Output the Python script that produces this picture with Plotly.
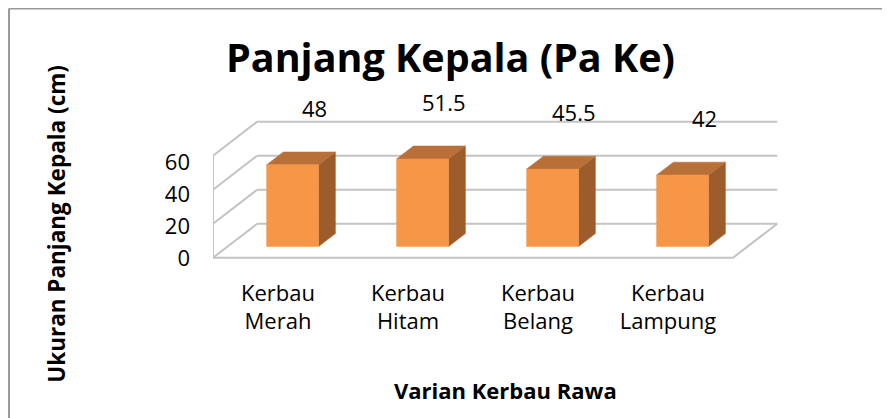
import plotly.graph_objects as go

# ---------------- data ----------------
categories = ["Kerbau<br>Merah", "Kerbau<br>Hitam", "Kerbau<br>Belang", "Kerbau<br>Lampung"]
values = [48, 51.5, 45.5, 42]
value_labels = ["48", "51.5", "45.5", "42"]
y_ticks = [0, 20, 40, 60]
y_tick_labels = ["0", "20", "40", "60"]
chart_title = "Panjang Kepala (Pa Ke)"
x_title = "Varian Kerbau Rawa"
y_title = "Ukuran Panjang Kepala (cm)"

# ---------------- layout / projection constants ----------------
W, H = 890, 418
OFF = 8.0                        # page body margin offset (px)
X0PX, CAT_PX = 278.0, 130.0      # pixel of category 0 on front floor, px per category
Y0PX, UNIT_PX = 262.0, 1.73      # pixel of value 0 on front floor, px per unit
PL, PR, PT, PB = 213.0, 778.0, 80.0, 270.0   # plot area in (screen) px

DX, DY = 0.34, 20.0      # depth vector (category units, value units)
D0, D1 = 0.33, 0.71      # bar front / back depth fraction
BW = 0.40                # bar width (category units)
LBL_DX, LBL_DY = 0.28, 40.0

FONT = "Open Sans"
FRONT, TOP, SIDE = "#F79646", "#B96F38", "#9D5C2B"
GRID = "#c3c3c3"


def fx(p):
    return (p - OFF) / W


def fy(p):
    return 1 - (p - OFF) / H


xr = [(PL - X0PX) / CAT_PX, (PR - X0PX) / CAT_PX]
yr = [(Y0PX - PB) / UNIT_PX, (Y0PX - PT) / UNIT_PX]

# tick label axis (labels sit slightly off the geometric gridlines in the original)
T0PX, TUNIT = 263.0, 1.642
yr2 = [(T0PX - PB) / TUNIT, (T0PX - PT) / TUNIT]

fig = go.Figure()

# ---------------- walls / gridlines ----------------
n = len(values)
xl, xrt = -0.5, n - 0.5
lx, ly = [], []
top = y_ticks[-1]
for v in y_ticks:
    lx += [xl + DX, xrt + DX, None]
    ly += [v + DY, v + DY, None]
    lx += [xl, xl + DX, None]
    ly += [v, v + DY, None]
lx += [xl, xl, None]
ly += [0, top, None]
lx += [xl, xrt, xrt + DX, None]
ly += [0, 0, DY, None]
fig.add_trace(go.Scatter(x=lx, y=ly, mode="lines", line=dict(color=GRID, width=2),
                         hoverinfo="skip", showlegend=False, cliponaxis=False))

# ---------------- 3D bars ----------------
dd = D1 - D0
for i, v in enumerate(values):
    cx = i + D0 * DX
    x_l, x_r = cx - BW / 2, cx + BW / 2
    yb, yt = D0 * DY, v + D0 * DY
    fig.add_trace(go.Scatter(
        x=[x_r, x_r, x_r + dd * DX, x_r + dd * DX, x_r],
        y=[yb, yt, yt + dd * DY, yb + dd * DY, yb],
        mode="lines", fill="toself", fillcolor=SIDE, line=dict(color=SIDE, width=0.5),
        hoverinfo="skip", showlegend=False))
    fig.add_trace(go.Scatter(
        x=[x_l, x_r, x_r + dd * DX, x_l + dd * DX, x_l],
        y=[yt, yt, yt + dd * DY, yt + dd * DY, yt],
        mode="lines", fill="toself", fillcolor=TOP, line=dict(color=TOP, width=0.5),
        hoverinfo="skip", showlegend=False))
    fig.add_trace(go.Scatter(
        x=[x_l, x_r, x_r, x_l, x_l],
        y=[yb, yb, yt, yt, yb],
        mode="lines", fill="toself", fillcolor=FRONT, line=dict(color=FRONT, width=0.5),
        hoverinfo="skip", showlegend=False))

fig.add_trace(go.Scatter(x=[0], y=[0], yaxis="y2", mode="markers",
                         marker=dict(opacity=0), hoverinfo="skip", showlegend=False))

annotations = []
for i, (v, t) in enumerate(zip(values, value_labels)):
    annotations.append(dict(x=i + LBL_DX, y=v + LBL_DY, xref="x", yref="y", text=t,
                            showarrow=False, font=dict(family=FONT, size=22, color="#000"),
                            xanchor="center", yanchor="middle"))

annotations.append(dict(x=fx(450.5), y=fy(58), xref="paper", yref="paper", text="<b>%s</b>" % chart_title,
                        showarrow=False, font=dict(family=FONT, size=39.5, color="#000"),
                        xanchor="center", yanchor="middle"))
annotations.append(dict(x=fx(505), y=fy(396), xref="paper", yref="paper", text="<b>%s</b>" % x_title,
                        showarrow=False, font=dict(family=FONT, size=22, color="#000"),
                        xanchor="center", yanchor="middle"))
annotations.append(dict(x=fx(57), y=fy(227.5), xref="paper", yref="paper", text="<b>%s</b>" % y_title,
                        showarrow=False, textangle=-90, font=dict(family=FONT, size=22.5, color="#000"),
                        xanchor="center", yanchor="middle"))

# chart frame (top and left edges, as visible in the original crop)
FRAME_X, FRAME_Y = 9.0, 8.5
shapes = [
    dict(type="line", xref="paper", yref="paper", x0=fx(FRAME_X), x1=1, y0=fy(FRAME_Y), y1=fy(FRAME_Y),
         line=dict(color="#9a9a9a", width=2)),
    dict(type="line", xref="paper", yref="paper", x0=fx(FRAME_X), x1=fx(FRAME_X), y0=fy(FRAME_Y), y1=0,
         line=dict(color="#9a9a9a", width=2)),
]

fig.update_layout(
    width=W, height=H,
    margin=dict(l=0, r=0, t=0, b=0),
    paper_bgcolor="white", plot_bgcolor="rgba(0,0,0,0)",
    showlegend=False,
    font=dict(family=FONT, size=22, color="#000"),
    xaxis=dict(domain=[fx(PL), fx(PR)], range=xr, showgrid=False, zeroline=False, showline=False,
               tickvals=list(range(n)), ticktext=categories, ticks="", ticklabelstandoff=12,
               tickfont=dict(family=FONT, size=22, color="#000"), fixedrange=True),
    yaxis=dict(domain=[fy(PB), fy(PT)], range=yr, showgrid=False, zeroline=False,
               showline=False, showticklabels=False, ticks="", fixedrange=True),
    yaxis2=dict(overlaying="y", side="left", range=yr2, tickvals=y_ticks, ticktext=y_tick_labels,
                showgrid=False, zeroline=False, showline=False, ticks="", ticklabelstandoff=22,
                tickfont=dict(family=FONT, size=22, color="#000"), fixedrange=True),
    annotations=annotations,
    shapes=shapes,
)

fig.write_html("out.html")
